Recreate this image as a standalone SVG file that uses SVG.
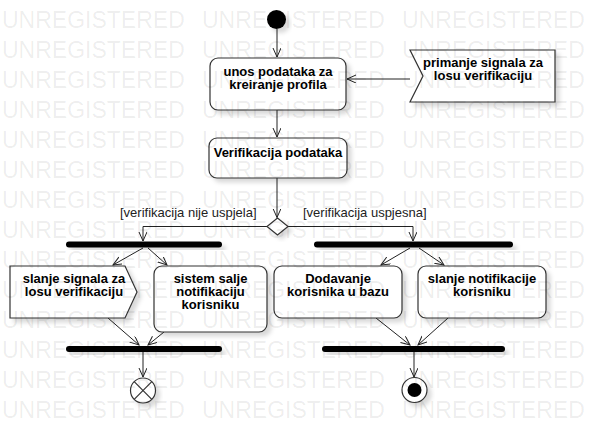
<svg xmlns="http://www.w3.org/2000/svg" width="594" height="443" viewBox="0 0 594 443">
<style>
.node{fill:#fff;stroke:#333;stroke-width:1.2;filter:url(#sh)}
.lbl{font-family:"Liberation Sans",Arial,sans-serif;font-size:13px;font-weight:bold;fill:#000;text-anchor:middle}
.grd{font-family:"Liberation Sans",Arial,sans-serif;font-size:13px;fill:#222}
.bar{fill:#000;filter:url(#sh)}
.edge{fill:none;stroke:#222;stroke-width:1;marker-end:url(#arr)}
.wm{font-family:"Liberation Sans",Arial,sans-serif;font-size:23px;fill:#000;fill-opacity:0.08}
</style>
<defs>
<filter id="sh" x="-20%" y="-20%" width="150%" height="160%">
<feDropShadow dx="4" dy="4" stdDeviation="2" flood-color="#000" flood-opacity="0.15"/>
</filter>
<marker id="arr" markerUnits="userSpaceOnUse" markerWidth="12" markerHeight="10" refX="9" refY="4" orient="auto">
<path d="M0,0 L9,4 L0,8" fill="none" stroke="#222" stroke-width="1"/>
</marker>
</defs>
<rect width="594" height="443" fill="#fff"/>

<g id="connectors">
<line class="edge" x1="277" y1="29" x2="277" y2="57"/>
<line class="edge" x1="277" y1="110" x2="277" y2="137"/>
<line class="edge" x1="410" y1="79" x2="347" y2="79"/>
<line class="edge" x1="277" y1="178" x2="277" y2="217.5"/>
<polyline class="edge" points="267,226.5 143,226.5 143,241"/>
<polyline class="edge" points="288,226.5 413,226.5 413,241"/>
<line class="edge" x1="143" y1="248" x2="113" y2="265"/>
<line class="edge" x1="148" y1="248" x2="167" y2="265"/>
<line class="edge" x1="410" y1="248" x2="381" y2="265"/>
<line class="edge" x1="419" y1="248" x2="444" y2="265"/>
<line class="edge" x1="108" y1="318" x2="139" y2="345"/>
<line class="edge" x1="164" y1="332" x2="148" y2="345"/>
<line class="edge" x1="376" y1="318" x2="410" y2="345"/>
<line class="edge" x1="448" y1="318" x2="418" y2="345"/>
<line class="edge" x1="143" y1="352" x2="143" y2="377"/>
<line class="edge" x1="414" y1="352" x2="414" y2="377"/>
</g>

<g id="initial"><circle cx="276.5" cy="19.5" r="9.5" fill="#000" filter="url(#sh)"/></g>

<g id="unos">
<rect class="node" x="210" y="58" width="136" height="52" rx="8"/>
<text class="lbl" x="278" y="75.5">unos podataka za</text>
<text class="lbl" x="278" y="88.5">kreiranje profila</text>
</g>

<g id="primanje">
<polygon class="node" points="410,50 555,50 555,102 410,102 423,76"/>
<text class="lbl" x="483" y="67">primanje signala za</text>
<text class="lbl" x="483" y="80">losu verifikaciju</text>
</g>

<g id="verifikacija">
<rect class="node" x="209" y="138" width="138" height="40" rx="8"/>
<text class="lbl" x="278" y="157">Verifikacija podataka</text>
</g>

<g id="decision">
<polygon class="node" points="277.5,218 288,226.5 277.5,235 267,226.5"/>
<text class="grd" x="120" y="217">[verifikacija nije uspjela]</text>
<text class="grd" x="303" y="217">[verifikacija uspjesna]</text>
</g>

<g id="fork-left"><rect class="bar" x="66" y="241.5" width="156" height="6" rx="3"/></g>
<g id="fork-right"><rect class="bar" x="314" y="241.5" width="199" height="6" rx="3"/></g>

<g id="slanje-signala">
<polygon class="node" points="10,266 125,266 137,292 125,318 10,318"/>
<text class="lbl" x="74" y="283">slanje signala za</text>
<text class="lbl" x="74" y="296">losu verifikaciju</text>
</g>

<g id="sistem">
<rect class="node" x="154" y="266" width="113" height="66" rx="8"/>
<text class="lbl" x="210.5" y="282.5">sistem salje</text>
<text class="lbl" x="210.5" y="295.5">notifikaciju</text>
<text class="lbl" x="210.5" y="308.5">korisniku</text>
</g>

<g id="dodavanje">
<rect class="node" x="274" y="266" width="128" height="52" rx="8"/>
<text class="lbl" x="338" y="283">Dodavanje</text>
<text class="lbl" x="338" y="296">korisnika u bazu</text>
</g>

<g id="slanje-notifikacije">
<rect class="node" x="418" y="266" width="128" height="52" rx="8"/>
<text class="lbl" x="482" y="283">slanje notifikacije</text>
<text class="lbl" x="482" y="296">korisniku</text>
</g>

<g id="join-left"><rect class="bar" x="66" y="346" width="156" height="6" rx="3"/></g>
<g id="join-right"><rect class="bar" x="322" y="346" width="183" height="6" rx="3"/></g>

<g id="flow-final">
<circle class="node" cx="143" cy="390.5" r="12.5"/>
<path d="M134.2,381.7 L151.8,399.3 M151.8,381.7 L134.2,399.3" stroke="#333" stroke-width="1.2"/>
</g>

<g id="final">
<circle class="node" cx="414.5" cy="390" r="12.5"/>
<circle cx="414.5" cy="390" r="7" fill="#000"/>
</g>

<g id="watermark">
<text class="wm" x="2" y="28">UNREGISTERED</text>
<text class="wm" x="202" y="28">UNREGISTERED</text>
<text class="wm" x="402" y="28">UNREGISTERED</text>
<text class="wm" x="2" y="58">UNREGISTERED</text>
<text class="wm" x="202" y="58">UNREGISTERED</text>
<text class="wm" x="402" y="58">UNREGISTERED</text>
<text class="wm" x="2" y="88">UNREGISTERED</text>
<text class="wm" x="202" y="88">UNREGISTERED</text>
<text class="wm" x="402" y="88">UNREGISTERED</text>
<text class="wm" x="2" y="118">UNREGISTERED</text>
<text class="wm" x="202" y="118">UNREGISTERED</text>
<text class="wm" x="402" y="118">UNREGISTERED</text>
<text class="wm" x="2" y="148">UNREGISTERED</text>
<text class="wm" x="202" y="148">UNREGISTERED</text>
<text class="wm" x="402" y="148">UNREGISTERED</text>
<text class="wm" x="2" y="178">UNREGISTERED</text>
<text class="wm" x="202" y="178">UNREGISTERED</text>
<text class="wm" x="402" y="178">UNREGISTERED</text>
<text class="wm" x="2" y="208">UNREGISTERED</text>
<text class="wm" x="202" y="208">UNREGISTERED</text>
<text class="wm" x="402" y="208">UNREGISTERED</text>
<text class="wm" x="2" y="238">UNREGISTERED</text>
<text class="wm" x="202" y="238">UNREGISTERED</text>
<text class="wm" x="402" y="238">UNREGISTERED</text>
<text class="wm" x="2" y="268">UNREGISTERED</text>
<text class="wm" x="202" y="268">UNREGISTERED</text>
<text class="wm" x="402" y="268">UNREGISTERED</text>
<text class="wm" x="2" y="298">UNREGISTERED</text>
<text class="wm" x="202" y="298">UNREGISTERED</text>
<text class="wm" x="402" y="298">UNREGISTERED</text>
<text class="wm" x="2" y="328">UNREGISTERED</text>
<text class="wm" x="202" y="328">UNREGISTERED</text>
<text class="wm" x="402" y="328">UNREGISTERED</text>
<text class="wm" x="2" y="358">UNREGISTERED</text>
<text class="wm" x="202" y="358">UNREGISTERED</text>
<text class="wm" x="402" y="358">UNREGISTERED</text>
<text class="wm" x="2" y="388">UNREGISTERED</text>
<text class="wm" x="202" y="388">UNREGISTERED</text>
<text class="wm" x="402" y="388">UNREGISTERED</text>
<text class="wm" x="2" y="418">UNREGISTERED</text>
<text class="wm" x="202" y="418">UNREGISTERED</text>
<text class="wm" x="402" y="418">UNREGISTERED</text>
</g>
</svg>
